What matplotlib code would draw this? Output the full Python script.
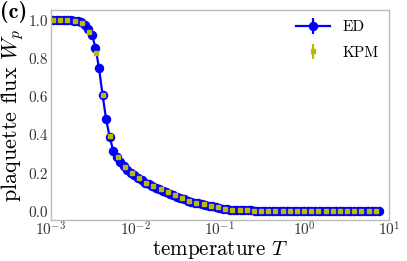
import numpy as np
import matplotlib
matplotlib.use("Agg")
import matplotlib.pyplot as plt

# ---- data ----
T_kpm_min, T_kpm_max, n_kpm = 1.064e-3, 6.97, 46
T_ed_min, T_ed_max, n_ed = 1.064e-3, 7.55, 93

W_kpm = [1.0, 1.0, 1.0, 0.998, 0.985, 0.941, 0.828, 0.61, 0.395, 0.287,
         0.235, 0.203, 0.177, 0.151, 0.134, 0.116, 0.100, 0.085, 0.069, 0.057,
         0.046, 0.038, 0.030, 0.022, 0.015, 0.009, 0.006, 0.005, 0.004, 0.004,
         0.004, 0.004, 0.004, 0.004, 0.003, 0.003, 0.003, 0.003, 0.003, 0.003,
         0.003, 0.003, 0.003, 0.003, 0.003, 0.003]

W_ed = [1.0, 1.0, 1.0, 1.0, 1.0, 1.0, 0.999, 0.997, 0.99, 0.975,
        0.955, 0.925, 0.858, 0.75, 0.61, 0.483, 0.39, 0.318, 0.285, 0.26,
        0.237, 0.218, 0.203, 0.19, 0.177, 0.164, 0.151, 0.142, 0.134, 0.125,
        0.116, 0.108, 0.100, 0.092, 0.085, 0.077, 0.069, 0.063, 0.057, 0.051,
        0.046, 0.042, 0.038, 0.034, 0.030, 0.026, 0.022, 0.018, 0.015, 0.012,
        0.009, 0.007, 0.006, 0.005, 0.005, 0.005, 0.005, 0.004, 0.004, 0.004,
        0.004, 0.004, 0.004, 0.004, 0.004, 0.004, 0.004, 0.004, 0.004, 0.004,
        0.004, 0.004, 0.004, 0.003, 0.003, 0.003, 0.003, 0.003, 0.003, 0.003,
        0.003, 0.003, 0.003, 0.003, 0.003, 0.003, 0.003, 0.003, 0.003, 0.003,
        0.003, 0.003, 0.003]

err_ed = [0.002] * n_ed
err_kpm = [0.003] * n_kpm

T_kpm = np.geomspace(T_kpm_min, T_kpm_max, n_kpm)
T_ed = np.geomspace(T_ed_min, T_ed_max, n_ed)

yticks = [0.0, 0.2, 0.4, 0.6, 0.8, 1.0]
xticks = [1e-3, 1e-2, 1e-1, 1e0, 1e1]

# ---- style ----
plt.rcParams['font.family'] = ['cmr10', 'DejaVu Sans']
plt.rcParams['mathtext.fontset'] = 'cm'
plt.rcParams['axes.formatter.use_mathtext'] = True
plt.rcParams['axes.unicode_minus'] = False

fig = plt.figure(figsize=(4.07, 2.61), dpi=100)
ax = fig.add_axes([0.1246, 0.157, 0.956 - 0.1246, 0.962 - 0.157])

ax.errorbar(T_ed, W_ed, yerr=err_ed, color='#0000ff', marker='o', markersize=5.8,
            linewidth=1.6, elinewidth=1.6, label='ED', zorder=2)
ax.errorbar(T_kpm, W_kpm, yerr=err_kpm, color='#bdb800', marker='s', markersize=3.3,
            linestyle='none', elinewidth=1.6, label='KPM', zorder=3)

ax.set_xscale('log')
ax.set_xlim(1e-3, 1e1)
ax.set_ylim(-0.045, 1.055)
ax.set_yticks(yticks)
ax.set_yticklabels([f"{v:.1f}" for v in yticks])
ax.set_xticks(xticks)
ax.minorticks_off()
ax.tick_params(length=0, labelsize=11, colors='#333333', pad=2)
ax.tick_params(axis='x', pad=0.5)
for s in ax.spines.values():
    s.set_color('#bbbbbb')
    s.set_linewidth(1.0)

ax.set_xlabel('temperature $T$', fontsize=15.2, va='baseline')
ax.xaxis.set_label_coords(0.5, -0.166)
ax.set_ylabel('plaquette flux $W_p$', fontsize=16, labelpad=2)

leg = ax.legend(loc='upper right', frameon=False, fontsize=11, handlelength=2.2,
                labelspacing=0.75, borderaxespad=0.3)

fig.text(0.0, 0.995, '(c)', fontsize=16, family='cmb10', va='top', ha='left')

fig.savefig('out.png', dpi=100)
